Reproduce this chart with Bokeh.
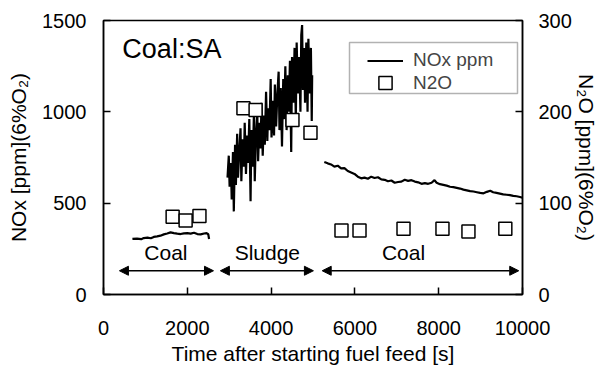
import math
from bokeh.plotting import figure
from bokeh.models import (Range1d, LinearAxis, FixedTicker, Arrow, NormalHead,
                          Label, Legend, LegendItem, BoxAnnotation)
from bokeh.embed import file_html
from bokeh.resources import INLINE
from bokeh.core.properties import value

FONT = "Liberation Sans"

# ---------------- data ----------------
coal1_time = [690, 800, 900, 960, 1050, 1130, 1200, 1280, 1360, 1440, 1520, 1600,
              1680, 1760, 1840, 1920, 2000, 2080, 2160, 2240, 2320, 2400, 2460, 2500, 2520]
coal1_nox = [304, 306, 303, 309, 311, 308, 315, 318, 322, 329, 334, 340,
             336, 333, 331, 335, 336, 333, 338, 331, 329, 334, 336, 330, 304]

sludge_time = [2960, 2990, 3010, 3040, 3060, 3090, 3110, 3140, 3160, 3190, 3210, 3240,
               3270, 3290, 3320, 3350, 3370, 3400, 3430, 3450, 3480, 3510, 3530, 3560,
               3590, 3610, 3640, 3670, 3690, 3720, 3750, 3770, 3800, 3830, 3850, 3880,
               3910, 3930, 3960, 3990, 4010, 4040, 4070, 4090, 4120, 4150, 4180, 4200,
               4230, 4260, 4290, 4310, 4340, 4370, 4400, 4420, 4450, 4480, 4500, 4530,
               4560, 4590, 4610, 4640, 4670, 4700, 4720, 4740, 4760, 4790, 4810, 4840,
               4870, 4890, 4920, 4950, 4970, 4980]
sludge_nox = [640, 760, 590, 720, 520, 780, 455, 820, 600, 880, 640, 780,
              910, 620, 850, 700, 940, 660, 870, 720, 960, 510, 900, 700,
              990, 620, 880, 1000, 730, 940, 800, 1050, 760, 980, 820, 1110,
              840, 1020, 900, 1180, 860, 1060, 870, 1150, 920, 1100, 1220, 900,
              1130, 810, 1180, 960, 1250, 900, 1200, 1000, 1280, 780, 1300, 1050,
              1350, 960, 1380, 1100, 1300, 1000, 1420, 1475, 1120, 1350, 1050, 1380,
              1000, 1400, 1100, 1350, 950, 1200]

coal2_time = [5270, 5350, 5430, 5510, 5590, 5670, 5750, 5830, 5910, 5990, 6070, 6150,
              6230, 6310, 6390, 6470, 6550, 6630, 6710, 6790, 6870, 6950, 7030, 7110,
              7190, 7270, 7350, 7430, 7510, 7590, 7670, 7750, 7830, 7900, 7950, 8030,
              8110, 8190, 8270, 8350, 8430, 8510, 8590, 8670, 8750, 8830, 8910, 8990,
              9070, 9150, 9230, 9300, 9380, 9460, 9540, 9620, 9700, 9780, 9860, 9940, 10000]
coal2_nox = [725, 718, 712, 700, 705, 690, 692, 676, 668, 660, 645, 636,
             640, 634, 645, 638, 642, 630, 628, 620, 624, 612, 616, 618,
             628, 622, 626, 618, 614, 606, 610, 606, 612, 626, 612, 604,
             600, 596, 590, 588, 584, 580, 574, 570, 566, 564, 560, 556,
             554, 562, 568, 560, 556, 552, 548, 546, 544, 540, 538, 534, 530]

n2o_time = [1650, 1960, 2290, 3340, 3630, 4510, 4940, 5680, 6110, 7160, 8090, 8710, 9590]
n2o_ppm = [85, 81, 86, 204, 202, 191, 177, 70, 70, 72, 72, 69, 72]

phase_labels = ["Coal", "Sludge", "Coal"]
phase_start = [380, 2790, 5220]
phase_end = [2625, 5010, 9910]
phase_label_x = [1490, 3910, 7160]

x_ticks = [0, 2000, 4000, 6000, 8000, 10000]
nox_ticks = [0, 500, 1000, 1500]
n2o_ticks = [0, 100, 200, 300]

# ---------------- figure ----------------
nan = float("nan")
nox_time = coal1_time + [nan] + sludge_time + [nan] + coal2_time
nox_vals = coal1_nox + [nan] + sludge_nox + [nan] + coal2_nox

p = figure(width=601, height=367, output_backend="svg", toolbar_location=None,
           x_range=Range1d(0, 10000), y_range=Range1d(0, 1500),
           min_border_left=103, min_border_right=79, min_border_top=20,
           min_border_bottom=72)
p.extra_y_ranges = {"n2o": Range1d(0, 300)}
p.xgrid.visible = False
p.ygrid.visible = False
p.outline_line_color = "black"
p.outline_line_width = 1.5
p.background_fill_color = "white"
p.border_fill_color = "white"

p.xaxis.ticker = FixedTicker(ticks=x_ticks)
p.yaxis.ticker = FixedTicker(ticks=nox_ticks)
p.xaxis.axis_label = "Time after starting fuel feed [s]"
p.yaxis.axis_label = "NOx [ppm](6%O\u2082)"

rax = LinearAxis(y_range_name="n2o", ticker=FixedTicker(ticks=n2o_ticks),
                 axis_label="N\u2082O [ppm](6%O\u2082)")
p.add_layout(rax, "right")

for ax in [p.xaxis[0], p.yaxis[0], rax]:
    ax.axis_line_color = "black"
    ax.axis_line_width = 1.5
    ax.major_tick_line_color = "black"
    ax.major_tick_line_width = 1.5
    ax.major_tick_in = 7
    ax.major_tick_out = 0
    ax.minor_tick_line_color = None
    ax.major_label_text_font = FONT
    ax.major_label_text_font_size = "20px"
    ax.major_label_text_color = "black"
    ax.axis_label_text_font = FONT
    ax.axis_label_text_font_size = "21px"
    ax.axis_label_text_font_style = "normal"
    ax.axis_label_text_color = "black"

p.xaxis[0].major_label_standoff = 26
p.xaxis[0].axis_label_standoff = 4
p.yaxis[0].major_label_standoff = 17
p.yaxis[0].axis_label_standoff = 9
rax.major_label_standoff = 16
rax.axis_label_standoff = 0

nox_r = p.line(nox_time, nox_vals, line_color="black", line_width=2.2)
n2o_r = p.scatter(n2o_time, n2o_ppm, marker="square", size=13, fill_color="white",
                  line_color="black", line_width=1.5, y_range_name="n2o")

for xs, xe in zip(phase_start, phase_end):
    p.add_layout(Arrow(x_start=xs, x_end=xe, y_start=130, y_end=130,
                       line_color="black", line_width=1.5,
                       start=NormalHead(size=9, fill_color="black", line_color="black"),
                       end=NormalHead(size=9, fill_color="black", line_color="black")))

p.text(x=phase_label_x, y=[230] * len(phase_labels), text=phase_labels,
       text_font=value(FONT), text_font_size="21px", text_align="center",
       text_baseline="middle", text_color="black")

p.add_layout(Label(x=450, y=1345, text="Coal:SA", text_font=FONT,
                   text_font_size="27px", text_align="left", text_baseline="middle",
                   text_color="black"))

# legend frame (screen units relative to the plot frame)
p.add_layout(BoxAnnotation(left=246, right=414, bottom=201, top=252,
                           left_units="screen", right_units="screen",
                           bottom_units="screen", top_units="screen",
                           fill_color="white", fill_alpha=1,
                           line_color="black", line_width=1.5))


def make_legend(item, loc, gh):
    lg = Legend(items=[item], location=loc)
    lg.padding = 0
    lg.spacing = 0
    lg.margin = 0
    lg.glyph_width = 36
    lg.glyph_height = gh
    lg.label_height = 18
    lg.label_standoff = 10
    lg.label_text_font = FONT
    lg.label_text_font_size = "19px"
    lg.border_line_color = None
    lg.background_fill_alpha = 0
    return lg


p.add_layout(make_legend(LegendItem(label="NOx ppm", renderers=[nox_r]), (264, 223), 19))
p.add_layout(make_legend(LegendItem(label="N2O", renderers=[n2o_r]), (264, 195), 33))

open("out.html", "w").write(file_html(p, INLINE))
